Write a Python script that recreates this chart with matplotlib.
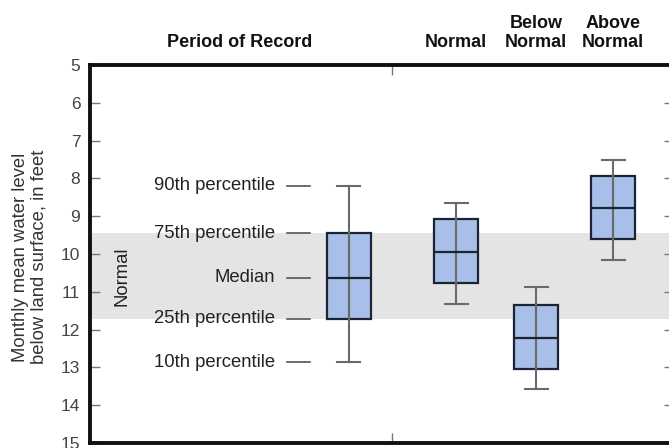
import matplotlib
matplotlib.use("Agg")
import matplotlib.pyplot as plt
from matplotlib.transforms import blended_transform_factory

# box statistics, feet below land surface
groups = ["Period of Record", "Normal", "Below\nNormal", "Above\nNormal"]
p10 = [12.86, 11.32, 13.57, 10.16]
p25 = [11.72, 10.77, 13.04, 9.60]
median = [10.63, 9.95, 12.22, 8.78]
p75 = [9.45, 9.07, 11.35, 7.93]
p90 = [8.20, 8.65, 10.87, 7.51]

normal_band = (9.45, 11.72)
pct_labels = ["90th percentile", "75th percentile", "Median", "25th percentile", "10th percentile"]
yticks = list(range(5, 16))

# layout (x axis in units of 100 px)
positions = [2.59, 3.66, 4.46, 5.23]
header_x = [1.50, 3.66, 4.46, 5.23]

plt.rcParams["font.family"] = ["Liberation Sans", "DejaVu Sans"]

fig = plt.figure(figsize=(6.69, 4.48), dpi=100)
ax = fig.add_axes([0.1345, 0.0112, 1.0075 - 0.1345, 0.855 - 0.0112])
ax.set_xlim(0, 5.84)
ax.set_ylim(15, 5)

ax.axhspan(*normal_band, xmin=0.004, xmax=1, color="#e4e4e4", zorder=0, lw=0)

stats = []
for i in range(len(groups)):
    stats.append({"whislo": p10[i], "q1": p75[i], "med": median[i],
                  "q3": p25[i], "whishi": p90[i], "fliers": []})
ax.bxp(stats, positions=positions, widths=0.44, patch_artist=True,
       showfliers=False, manage_ticks=False,
       boxprops=dict(facecolor="#a8c0e9", edgecolor="#1c2335", linewidth=1.6),
       medianprops=dict(color="#1c2335", linewidth=1.6),
       whiskerprops=dict(color="#6a6a6a", linewidth=1.5),
       capprops=dict(color="#6a6a6a", linewidth=1.5),
       capwidths=0.23)

# percentile key on the first box
key_y = [p90[0], p75[0], median[0], p25[0], p10[0]]
for lab, y in zip(pct_labels, key_y):
    ax.plot([1.97, 2.20], [y, y], color="#555555", lw=1.2)
    ax.text(1.85, y, lab, ha="right", va="center", fontsize=13.3, color="#222222")

ax.text(0.32, sum(normal_band) / 2, "Normal", rotation=90, ha="center",
        va="center", fontsize=13.3, color="#222222")

# column headers
trans = blended_transform_factory(ax.transData, fig.transFigure)
for x, g in zip(header_x, groups):
    ax.text(x, 1 - 51 / 448, g, transform=trans, ha="center", va="bottom",
            fontsize=13, fontweight="bold", color="#111111", linespacing=1.15)

ax.set_yticks(yticks)
ax.set_xticks([3.02])
ax.set_xticklabels([])
ax.tick_params(axis="y", direction="in", length=7, width=1, color="#777777",
               labelcolor="#444444", labelsize=12.5, pad=7, right=True)
ax.tick_params(axis="x", direction="in", length=7, width=1, color="#777777",
               top=True)
for side in ["left", "top", "bottom", "right"]:
    ax.spines[side].set_linewidth(2.8)
    ax.spines[side].set_color("#111111")

fig.text(0.045, 0.426, "Monthly mean water level\nbelow land surface, in feet",
         rotation=90, ha="center", va="center", fontsize=13.3, color="#333333",
         linespacing=1.1)

fig.savefig("out.png", dpi=100)
